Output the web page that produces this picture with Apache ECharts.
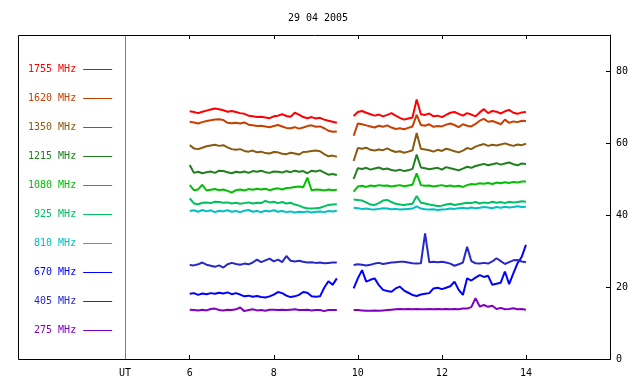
<!DOCTYPE html>
<html><head><meta charset="utf-8">
<script src="https://cdn.jsdelivr.net/npm/echarts@6/dist/echarts.min.js"></script>
<style>html,body{margin:0;padding:0;background:#fff}#c{width:640px;height:384px}</style>
</head><body><div id="c"></div>
<script>
const title = "29 04 2005";
const xTicks = [6, 8, 10, 12, 14];
const yTicks = [0, 20, 40, 60, 80];
const times = [
  6.0,6.1,6.2,6.3,6.4,6.5,6.6,6.7,6.8,6.9,7.0,7.1,
  7.2,7.3,7.4,7.5,7.6,7.7,7.8,7.9,8.0,8.1,8.2,8.3,
  8.4,8.5,8.6,8.7,8.8,8.9,9.0,9.1,9.2,9.3,9.4,9.5,
  9.7,
  9.9,10.0,10.1,10.2,10.3,10.4,10.5,10.6,10.7,10.8,10.9,11.0,11.1,11.2,
  11.3,11.4,11.5,11.6,11.7,11.8,11.9,12.0,12.1,12.2,12.3,12.4,12.5,12.6,
  12.7,12.8,12.9,13.0,13.1,13.2,13.3,13.4,13.5,13.6,13.7,13.8,13.9,14.0
];
const names = ["1755 MHz","1620 MHz","1350 MHz","1215 MHz","1080 MHz","925 MHz","810 MHz","670 MHz","405 MHz","275 MHz"];
const colors = ["#ff0000","#c84000","#8a5a10","#208020","#00c000","#00c060","#00c0c0","#0000ff","#2828c8","#8000c0"];

const s1755 = [
  68.8,68.6,68.3,68.7,69.0,69.3,69.6,69.4,69.1,68.7,68.9,68.6,
  68.3,68.1,67.6,67.4,67.2,67.3,67.1,66.9,67.4,67.6,68.0,67.5,
  67.3,68.4,67.9,67.2,66.9,67.2,66.8,67.0,66.5,66.2,65.9,65.6,
  null,
  67.5,68.6,68.9,68.4,68.0,67.6,67.9,67.4,67.8,68.3,67.6,67.0,66.5,66.8,
  67.1,72.1,68.0,67.8,68.2,67.4,67.6,67.2,67.8,68.4,68.6,68.1,67.6,68.3,
  67.9,67.4,68.5,69.4,68.3,68.9,68.7,68.2,68.8,69.2,68.4,68.1,68.5,68.6
];
const s1620 = [
  65.9,65.7,65.4,65.8,66.1,66.3,66.5,66.6,66.4,65.6,65.5,65.6,
  65.4,65.7,65.1,64.9,64.7,64.8,64.6,64.4,64.7,65.0,64.6,64.2,
  64.1,64.4,64.0,64.3,64.7,64.9,64.5,64.6,64.1,63.4,63.1,63.2,
  null,
  62.0,65.4,65.2,64.9,64.6,64.3,64.8,64.5,64.9,64.3,63.9,64.1,63.8,64.2,
  64.6,67.8,65.0,64.8,65.2,64.5,64.7,64.6,65.1,65.4,65.0,64.4,65.2,64.8,
  64.6,65.3,66.2,66.7,65.9,66.1,65.7,65.2,66.5,65.6,66.0,65.8,66.2,66.1
];
const s1350 = [
  59.4,58.5,58.3,58.7,59.1,59.3,59.5,59.2,59.4,58.8,58.3,58.1,
  58.3,57.8,57.6,57.9,57.4,57.6,57.2,57.1,57.5,57.4,57.0,56.9,
  57.3,57.1,56.8,57.5,57.6,57.8,57.9,57.7,56.9,56.3,56.5,56.2,
  null,
  55.0,58.6,58.4,58.7,58.1,57.9,58.2,58.0,58.5,57.9,57.5,57.7,57.3,57.6,
  58.0,62.8,58.4,58.2,58.0,57.6,58.1,57.8,58.4,58.1,57.7,57.4,57.9,58.6,
  58.3,59.0,59.4,59.7,59.2,59.5,59.3,59.6,59.9,59.5,59.2,59.6,59.4,59.8
];
const s1215 = [
  53.9,51.7,52.0,51.6,51.9,52.1,51.7,52.3,52.2,51.9,51.6,52.0,
  51.8,52.1,51.7,52.2,52.0,52.3,51.9,51.7,52.1,52.0,51.8,52.2,
  51.9,52.3,52.0,52.2,51.6,52.3,52.1,52.4,51.8,51.2,51.4,51.1,
  null,
  50.0,53.0,52.8,53.1,52.6,52.9,53.2,52.7,52.9,52.5,52.3,52.6,52.2,52.4,
  52.8,56.8,53.2,53.0,52.7,52.9,53.1,52.6,53.3,53.0,52.7,52.4,52.9,53.4,
  53.1,53.6,53.9,54.2,53.8,54.1,54.4,54.0,54.3,54.6,54.1,53.8,54.3,54.2
];
const s1080 = [
  48.3,46.9,47.1,48.4,46.8,47.0,47.2,46.9,47.1,46.7,46.2,46.9,
  47.1,46.8,47.2,47.0,47.3,47.1,47.3,46.9,47.2,47.4,47.1,47.5,
  47.6,47.8,47.9,47.7,50.4,46.8,47.1,47.0,46.8,47.1,46.9,47.0,
  null,
  46.5,47.9,48.1,47.8,48.2,48.0,48.3,48.1,48.2,47.9,48.1,48.3,48.0,48.2,
  48.4,51.6,48.3,48.1,48.2,47.9,48.1,48.3,48.0,48.2,47.9,48.1,47.8,48.3,
  48.6,48.5,48.8,48.7,48.9,48.6,49.0,48.8,49.1,48.9,49.2,49.0,49.3,49.3
];
const s925 = [
  44.6,43.2,43.0,43.4,43.5,43.3,43.7,43.6,43.4,43.5,43.2,43.4,
  43.1,43.3,43.5,43.2,43.4,43.3,43.9,43.5,43.7,43.3,43.6,43.2,
  43.4,42.9,42.6,42.1,41.9,41.8,41.9,42.0,42.4,42.8,42.9,43.0,
  null,
  44.3,44.2,44.0,43.5,42.9,42.8,43.3,44.0,44.2,43.6,43.1,42.9,42.8,43.0,
  43.1,45.3,43.4,43.2,42.9,42.7,42.5,42.6,42.9,43.1,42.8,43.0,43.2,43.4,
  43.3,43.6,43.2,43.5,43.3,43.7,43.4,43.6,43.3,43.7,43.5,43.6,43.8,43.7
];
const s810 = [
  41.1,41.3,40.9,41.4,41.0,41.3,40.8,41.2,41.0,41.3,40.9,41.1,
  40.8,41.2,41.4,40.9,41.1,40.8,41.2,41.0,41.3,40.9,41.1,40.8,
  41.0,40.7,40.9,40.8,41.0,40.7,40.9,41.0,40.8,41.1,41.0,41.2,
  null,
  42.0,41.9,41.7,41.8,41.6,41.5,41.7,41.9,41.8,41.6,41.7,41.5,41.6,41.7,
  41.8,42.4,41.8,41.6,41.5,41.6,41.4,41.5,41.6,41.8,41.7,41.9,42.0,41.8,
  42.1,41.9,42.0,42.2,42.1,41.9,42.2,42.0,42.3,42.1,42.2,42.4,42.2,42.3
];
const s670 = [
  18.1,18.3,17.8,18.2,18.0,18.3,18.1,18.4,18.2,18.5,18.0,18.3,
  17.9,17.4,17.6,17.3,17.5,17.2,17.1,17.4,17.9,18.6,18.3,17.6,
  17.2,17.4,17.8,18.6,18.4,17.4,17.3,17.4,19.8,21.6,20.6,22.4,
  null,
  19.6,22.4,24.7,21.5,22.0,22.4,20.5,19.2,18.9,18.7,19.6,20.1,19.0,18.4,
  17.8,17.5,17.9,18.1,18.3,19.6,19.8,19.4,19.8,20.2,21.5,19.2,17.8,22.4,
  21.8,22.6,23.3,22.8,23.1,20.6,20.9,21.2,24.3,20.8,23.8,26.6,28.4,31.7
];
const s405 = [
  26.1,26.0,26.3,26.8,26.2,25.9,25.6,26.0,25.4,26.3,26.7,26.4,
  26.2,26.5,26.3,26.8,27.6,26.9,27.4,27.9,27.1,27.6,26.9,28.6,
  27.3,27.1,27.3,27.0,26.8,26.9,26.7,26.8,26.6,26.7,26.8,26.8,
  null,
  26.1,26.3,26.2,26.0,26.2,26.5,26.7,26.4,26.6,26.8,26.9,27.0,27.0,26.8,
  26.6,26.5,26.6,34.9,26.9,27.0,26.9,27.0,26.8,26.5,25.9,26.3,26.8,31.2,
  27.2,26.6,26.5,26.7,26.5,27.1,28.0,27.2,26.4,26.9,27.4,27.5,27.1,26.9
];
const s275 = [
  13.7,13.6,13.5,13.7,13.5,13.9,14.0,13.6,13.5,13.7,13.6,13.8,
  14.3,13.3,13.6,13.8,13.5,13.6,13.4,13.7,13.7,13.6,13.7,13.6,
  13.7,13.8,13.6,13.6,13.7,13.5,13.6,13.6,13.3,13.6,13.6,13.6,
  null,
  13.6,13.6,13.5,13.4,13.4,13.5,13.4,13.5,13.6,13.7,13.8,13.9,13.8,13.9,
  13.8,13.9,13.8,13.8,13.9,13.8,13.9,13.8,13.9,13.8,13.9,13.8,14.0,14.0,
  14.4,16.9,14.6,15.0,14.5,14.8,13.9,14.2,13.8,13.9,14.1,13.8,13.9,13.7
];
const values = [s1755,s1620,s1350,s1215,s1080,s925,s810,s670,s405,s275];

const FONT = "DejaVu Sans Mono";
const chart = echarts.init(document.getElementById('c'), null, {renderer:'canvas'});
const series = names.map((n,i)=>({
  name:n, type:'line', symbol:'none', showSymbol:false, connectNulls:false,
  animation:false, silent:true,
  lineStyle:{color:colors[i], width:2}, itemStyle:{color:colors[i]},
  data: times.map((t,k)=>[t, values[i][k]])
}));
chart.setOption({
  animation:false,
  backgroundColor:'#fff',
  title:{text:title, left:313, top:8, textAlign:'center',
    textStyle:{fontFamily:FONT, fontSize:10, fontWeight:'normal', color:'#000'}},
  legend:{
    orient:'vertical', left:23, top:57.5, align:'right',
    icon:'rect', itemWidth:29, itemHeight:1, itemGap:15,
    data: names.map((n,i)=>({name:n, textStyle:{color:colors[i]}})),
    textStyle:{fontFamily:FONT, fontSize:10, lineHeight:14, padding:[0,2,0,0]},
    selectedMode:false
  },
  grid:{left:125, right:30, top:35, bottom:25, containLabel:false},
  xAxis:[{
    type:'value', min:4.46, max:16, position:'bottom',
    axisLine:{show:true, lineStyle:{color:'#000'}},
    axisTick:{show:true, inside:true, length:4, customValues:xTicks, lineStyle:{color:'#000'}},
    axisLabel:{show:true, customValues:[4.46].concat(xTicks), margin:9,
      formatter:v=> v<5 ? 'UT' : String(v),
      fontFamily:FONT, fontSize:10, color:'#000'},
    splitLine:{show:false}
  },{
    type:'value', min:4.46, max:16, position:'top',
    axisLine:{show:false},
    axisTick:{show:true, inside:true, length:4, customValues:xTicks, lineStyle:{color:'#000'}},
    axisLabel:{show:false}, splitLine:{show:false}
  }],
  yAxis:{
    type:'value', min:0, max:90, position:'right',
    axisLine:{show:true, lineStyle:{color:'#000'}},
    axisTick:{show:true, inside:true, length:4, customValues:yTicks, lineStyle:{color:'#000'}},
    axisLabel:{show:true, customValues:yTicks, margin:6, fontFamily:FONT, fontSize:10, color:'#000'},
    splitLine:{show:false}
  },
  graphic:[
    {type:'rect', z:100, silent:true, shape:{x:18.5, y:35.5, width:592, height:324},
      style:{fill:null, stroke:'#000', lineWidth:1}},
    {type:'line', z:100, silent:true, shape:{x1:125.5, y1:36, x2:125.5, y2:359},
      style:{stroke:'#808080', lineWidth:1}}
  ],
  series: series
});
</script></body></html>
